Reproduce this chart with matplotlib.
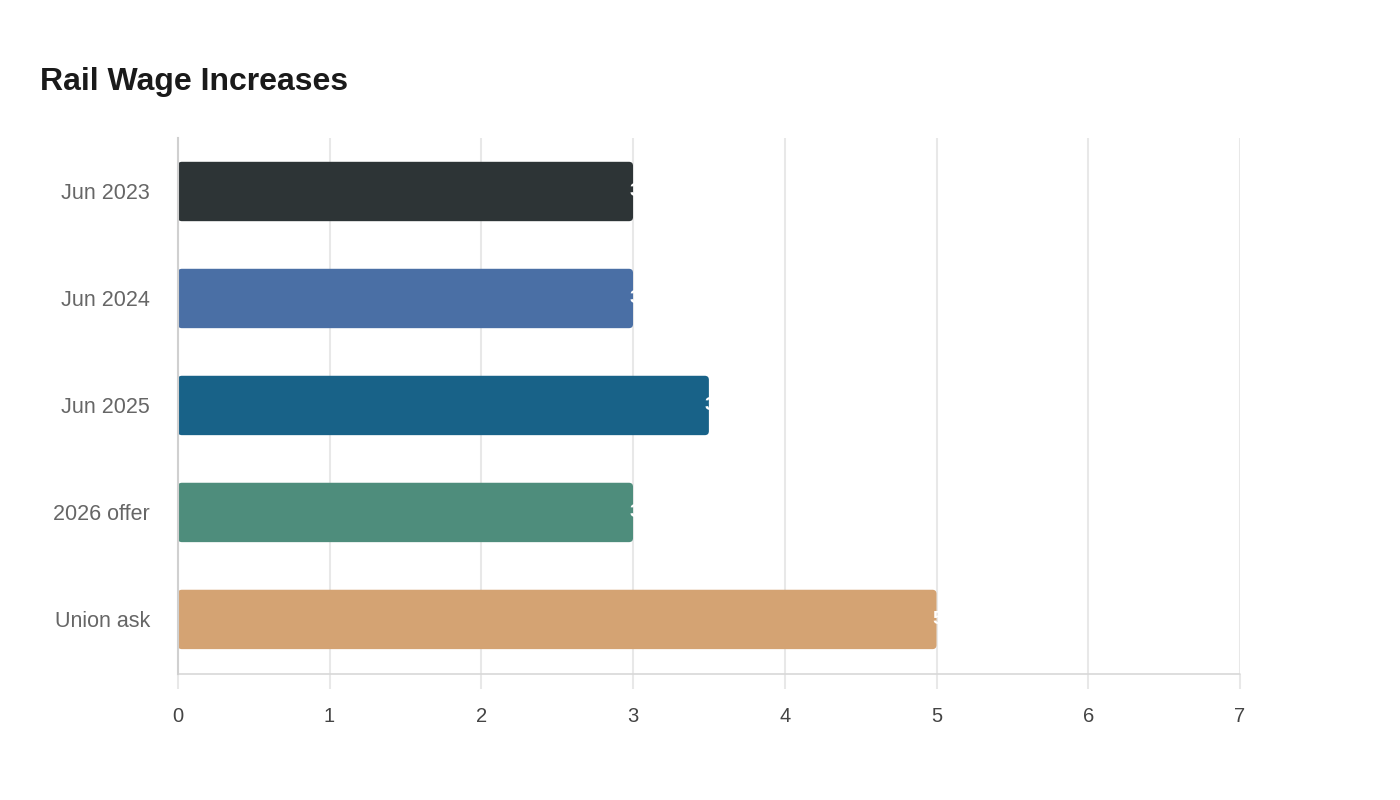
import matplotlib.pyplot as plt
from matplotlib.patches import FancyBboxPatch
from matplotlib.transforms import offset_copy

plt.rcParams['font.family'] = ['Liberation Sans', 'DejaVu Sans']

categories = ['Jun 2023', 'Jun 2024', 'Jun 2025', '2026 offer', 'Union ask']
values = [3, 3, 3.5, 3, 5]
colors = ['#2d3436', '#4a6fa5', '#186288', '#4e8d7c', '#d4a373']
xticks = [0, 1, 2, 3, 4, 5, 6, 7]

fig = plt.figure(figsize=(14, 8), dpi=100)
ax = fig.add_axes([0.127, 0.1575, 0.7587, 0.67])

bars = ax.barh(categories, values, height=0.555, color=colors, zorder=3)

# swap plain rectangles for ones with slightly rounded corners
for bar, c in zip(bars, colors):
    bar.set_visible(False)
    rb = FancyBboxPatch((bar.get_x(), bar.get_y()), bar.get_width(), bar.get_height(),
                        boxstyle='round,pad=0,rounding_size=0.027',
                        mutation_aspect=1.4, facecolor=c, edgecolor='none', zorder=3)
    ax.add_patch(rb)

# value labels: white text starting just inside the bar end (mostly lost on white bg)
lbl_tr = offset_copy(ax.transData, fig=fig, x=-4, y=0, units='dots')
for bar, v in zip(bars, values):
    ax.text(v, bar.get_y() + bar.get_height() / 2, f'{v:g}', ha='left',
            va='center', color='white', fontsize=14, fontweight='bold',
            zorder=4, transform=lbl_tr)

ax.set_xlim(0, 7)
ax.set_ylim(4.51, -0.5)
ax.set_xticks(xticks)
ax.set_xticklabels([str(t) for t in xticks])

ax.grid(axis='x', color='#e8e8e8', linewidth=1.5, zorder=0)
ax.grid(axis='y', visible=False)

for s in ['top', 'right']:
    ax.spines[s].set_visible(False)
ax.spines['left'].set_color('#d0d0d0')
ax.spines['left'].set_linewidth(1.5)
ax.spines['left'].set_zorder(5)
ax.spines['bottom'].set_color('#d8d8d8')
ax.spines['bottom'].set_linewidth(1.2)
ax.spines['bottom'].set_linestyle((0, (1, 1)))

ax.tick_params(axis='x', length=11, width=1.5, color='#e8e8e8',
               labelsize=14.5, labelcolor='#444444', pad=13)
ax.tick_params(axis='y', length=0, labelsize=15.5, labelcolor='#666666', pad=20)

fig.text(0.0286, 0.898, 'Rail Wage Increases', fontsize=23, fontweight='bold',
         color='#1a1a1a', ha='left', va='center')

fig.savefig('out.png', dpi=100, facecolor='white')
